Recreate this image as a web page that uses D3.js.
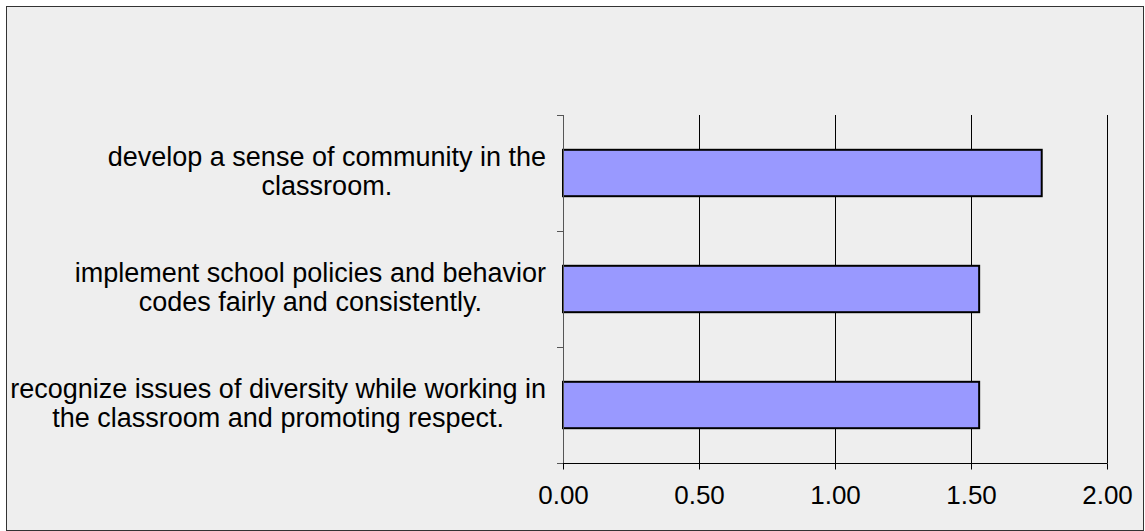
<!DOCTYPE html>
<html>
<head>
<meta charset="utf-8">
<script src="https://cdn.jsdelivr.net/npm/d3@7"></script>
<style>
  html, body { margin: 0; padding: 0; background: #ffffff; }
  svg { display: block; }
  text { fill: #000; }
</style>
</head>
<body>
<svg id="chart" width="1145" height="531"></svg>
<script>
// Survey items (top to bottom) and their mean ratings
const categories = [
  "develop a sense of community in the\nclassroom.",
  "implement school policies and behavior\ncodes fairly and consistently.",
  "recognize issues of diversity while working in\nthe classroom and promoting respect."
];
const values = [1.76, 1.53, 1.53];
const xTicks = [0, 0.5, 1.0, 1.5, 2.0];

const W = 1145, H = 531;
const plot = { left: 563, right: 1107, top: 115, bottom: 463 };
const font = "Liberation Sans, Arial, sans-serif";
const catSize = 27;
const tickSize = 26;
const lineGap = 29;

const svg = d3.select("#chart");

// frame
svg.append("rect")
  .attr("x", 6.5).attr("y", 6.5)
  .attr("width", W - 8).attr("height", H - 7)
  .attr("fill", "#eeeeee")
  .attr("stroke", "#333").attr("stroke-width", 1);

const x = d3.scaleLinear().domain([0, 2]).range([plot.left, plot.right]);
const y = d3.scaleBand().domain(categories).range([plot.top, plot.bottom]).paddingInner(0.6).paddingOuter(0.3);
const yBand = d3.scaleBand().domain(categories).range([plot.top, plot.bottom]);

// vertical gridlines
svg.append("g").selectAll("line")
  .data(xTicks.slice(1))
  .join("line")
  .attr("x1", d => Math.round(x(d)) + 0.5).attr("x2", d => Math.round(x(d)) + 0.5)
  .attr("y1", plot.top).attr("y2", plot.bottom)
  .attr("stroke", "#000").attr("stroke-width", 1);

// bars
svg.append("g").selectAll("rect")
  .data(values)
  .join("rect")
  .attr("x", x(0))
  .attr("y", (d, i) => y(categories[i]))
  .attr("width", d => x(d) - x(0))
  .attr("height", y.bandwidth())
  .attr("fill", "#9999ff")
  .attr("stroke", "#000").attr("stroke-width", 2);

// x axis
const xAxis = d3.axisBottom(x).tickValues(xTicks).tickFormat(d3.format(".2f")).tickSizeInner(6).tickSizeOuter(0);
const gx = svg.append("g").attr("transform", `translate(0,${plot.bottom + 0.5})`).call(xAxis);
gx.select(".domain").attr("d", `M${plot.left - 6},0H${plot.right + 0.5}`).attr("stroke", "#000");
gx.selectAll(".tick line").attr("stroke", "#000");
gx.selectAll(".tick text")
  .attr("font-size", tickSize).attr("font-family", font).attr("fill", "#000")
  .attr("y", 40.5).attr("dy", null);

// y axis (band boundaries as ticks)
const bounds = categories.map(c => yBand(c)).concat([plot.bottom]);
svg.append("line")
  .attr("x1", plot.left + 0.5).attr("x2", plot.left + 0.5)
  .attr("y1", plot.top).attr("y2", plot.bottom)
  .attr("stroke", "#555");
svg.append("g").selectAll("line")
  .data(bounds)
  .join("line")
  .attr("x1", plot.left - 6).attr("x2", plot.left)
  .attr("y1", d => Math.round(d) + 0.5).attr("y2", d => Math.round(d) + 0.5)
  .attr("stroke", "#555");

// category labels: each block centred on its own widest line, right edge near the axis
const labelRight = 546;
categories.forEach(c => {
  const lines = c.split("\n");
  const cy = yBand(c) + yBand.bandwidth() / 2;
  const t = svg.append("text")
    .attr("font-size", catSize).attr("font-family", font)
    .attr("text-anchor", "middle");
  lines.forEach((ln, k) => {
    t.append("tspan")
      .attr("y", cy - 7 + k * lineGap)
      .text(ln);
  });
  const widths = [];
  t.selectAll("tspan").each(function() { widths.push(this.getComputedTextLength()); });
  const maxW = d3.max(widths);
  t.selectAll("tspan").attr("x", labelRight - maxW / 2);
});
</script>
</body>
</html>
